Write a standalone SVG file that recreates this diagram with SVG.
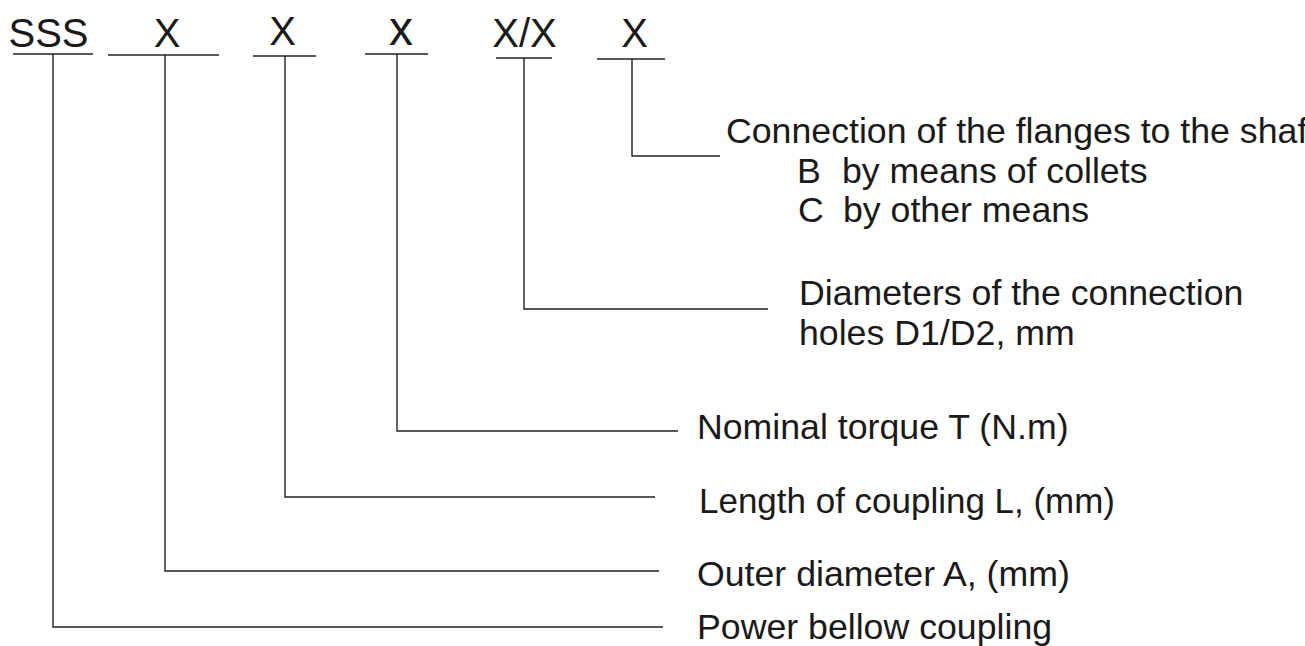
<svg xmlns="http://www.w3.org/2000/svg" width="1305" height="646" viewBox="0 0 1305 646">
<style>
.t{font-family:"Liberation Sans",Arial,sans-serif;fill:#1a1a1a}
.code{font-size:40px;text-anchor:middle}
.lbl{font-size:35.7px}
.ln{stroke:#222;stroke-width:1.4;fill:none}
</style>
<rect width="1305" height="646" fill="#fff"/>
<g id="codes">
<g id="code-sss"><text class="t code" x="48.5" y="47">SSS</text><line class="ln" x1="13" y1="54" x2="93" y2="54"/></g>
<g id="code-x1"><text class="t code" x="167" y="47">X</text><line class="ln" x1="108" y1="55" x2="219" y2="55"/></g>
<g id="code-x2"><text class="t code" x="282.5" y="45">X</text><line class="ln" x1="253" y1="56" x2="316" y2="56"/></g>
<g id="code-x3"><text class="t" x="401" y="45" style="font-size:48px;text-anchor:middle">x</text><line class="ln" x1="365" y1="54" x2="428" y2="54"/></g>
<g id="code-xx"><text class="t code" x="524.5" y="47">X/X</text><line class="ln" x1="496" y1="58" x2="552" y2="58"/></g>
<g id="code-x4"><text class="t code" x="634.5" y="47">X</text><line class="ln" x1="597" y1="59" x2="665" y2="59"/></g>
</g>
<g id="connectors">
<polyline class="ln" points="53,54 53,627 663,627"/>
<polyline class="ln" points="165,55 165,571 659,571"/>
<polyline class="ln" points="285,56 285,497 655,497"/>
<polyline class="ln" points="397,54 397,431 678,431"/>
<polyline class="ln" points="524,58 524,309 768,309"/>
<polyline class="ln" points="632,59 632,156 720,156"/>
</g>
<g id="label-connection">
<text class="t lbl" x="726" y="143">Connection of the flanges to the shaf</text>
<text class="t lbl" y="183"><tspan x="797">B</tspan><tspan x="842">by means of collets</tspan></text>
<text class="t lbl" y="222"><tspan x="798">C</tspan><tspan x="843">by other means</tspan></text>
</g>
<g id="label-diameters">
<text class="t lbl" x="799" y="305">Diameters of the connection</text>
<text class="t lbl" x="799" y="345">holes D1/D2, mm</text>
</g>
<g id="label-torque"><text class="t lbl" x="697" y="439">Nominal torque T (N.m)</text></g>
<g id="label-length"><text class="t lbl" x="699" y="513" textLength="416" lengthAdjust="spacingAndGlyphs">Length of coupling L, (mm)</text></g>
<g id="label-outer"><text class="t lbl" x="697" y="586">Outer diameter A, (mm)</text></g>
<g id="label-power"><text class="t lbl" x="697" y="639">Power bellow coupling</text></g>
</svg>
